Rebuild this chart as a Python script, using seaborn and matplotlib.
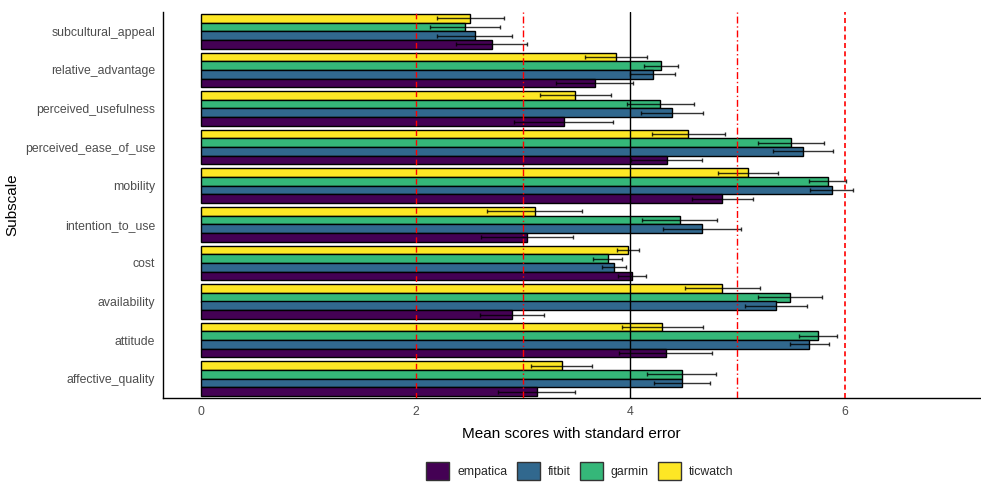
import numpy as np
import pandas as pd
import matplotlib
matplotlib.use("Agg")
import matplotlib.pyplot as plt
from matplotlib.patches import Patch
import seaborn as sns

subscales = ["subcultural_appeal", "relative_advantage", "perceived_usefulness",
             "perceived_ease_of_use", "mobility", "intention_to_use", "cost",
             "availability", "attitude", "affective_quality"]
devices = ["empatica", "fitbit", "garmin", "ticwatch"]

mean_empatica = [2.71, 3.67, 3.38, 4.34, 4.86, 3.04, 4.02, 2.90, 4.33, 3.13]
se_empatica = [0.33, 0.36, 0.46, 0.33, 0.28, 0.43, 0.13, 0.30, 0.43, 0.36]
mean_fitbit = [2.55, 4.21, 4.39, 5.61, 5.88, 4.67, 3.85, 5.36, 5.67, 4.48]
se_fitbit = [0.35, 0.21, 0.29, 0.28, 0.20, 0.36, 0.11, 0.29, 0.18, 0.26]
mean_garmin = [2.46, 4.29, 4.28, 5.50, 5.84, 4.46, 3.79, 5.49, 5.75, 4.48]
se_garmin = [0.33, 0.16, 0.31, 0.31, 0.17, 0.35, 0.135, 0.30, 0.18, 0.32]
mean_ticwatch = [2.51, 3.87, 3.49, 4.54, 5.10, 3.11, 3.98, 4.86, 4.30, 3.36]
se_ticwatch = [0.31, 0.29, 0.33, 0.34, 0.28, 0.44, 0.105, 0.35, 0.38, 0.28]

colors = {"empatica": "#440154", "fitbit": "#31688E", "garmin": "#35B779", "ticwatch": "#FDE725"}

means = {"empatica": mean_empatica, "fitbit": mean_fitbit, "garmin": mean_garmin, "ticwatch": mean_ticwatch}
ses = {"empatica": se_empatica, "fitbit": se_fitbit, "garmin": se_garmin, "ticwatch": se_ticwatch}

rows = []
for d in devices:
    for s, m, e in zip(subscales, means[d], ses[d]):
        rows.append({"subscale": s, "device": d, "mean": m, "se": e})
df = pd.DataFrame(rows)

sns.set_style("white")
plt.rcParams["font.family"] = ["Liberation Sans", "DejaVu Sans"]

fig = plt.figure(figsize=(9.81, 4.84), dpi=100)
ax = fig.add_axes([163 / 981, 1 - 398 / 484, (980 - 163) / 981, (398 - 12) / 484])

hue_order = ["ticwatch", "garmin", "fitbit", "empatica"]
sns.barplot(data=df, y="subscale", x="mean", hue="device", order=subscales,
            hue_order=hue_order, palette=colors, orient="h", errorbar=None,
            width=0.9, edgecolor="black", linewidth=1, saturation=1, ax=ax,
            legend=False)

for cont, dev in zip(ax.containers, hue_order):
    sub = df[df.device == dev].set_index("subscale").loc[subscales]
    ys = [p.get_y() + p.get_height() / 2 for p in cont]
    xs = [p.get_width() for p in cont]
    ax.errorbar(xs, ys, xerr=sub["se"].values, fmt="none", ecolor="black",
                elinewidth=1, capsize=1.5, capthick=1, alpha=0.8, zorder=5)

ax.axvline(4, color="black", lw=1, zorder=6)
ax.axvline(2, color="red", lw=1, ls=(0, (4, 3)), zorder=6)
ax.axvline(6, color="red", lw=1.2, ls=(0, (3, 2)), zorder=6)
ax.axvline(3, color="red", lw=1, ls=(0, (5, 2, 1, 2)), zorder=6)
ax.axvline(5, color="red", lw=1, ls=(0, (5, 2, 1, 2)), zorder=6)

ax.set_xlim(-0.354, 7.26)
ax.set_ylim(9.5, -0.5)
ax.set_xticks([0, 2, 4, 6])
ax.tick_params(axis="both", colors="#333333", labelcolor="#4D4D4D", labelsize=8.8,
               length=3, width=0.8, direction="out")
ax.tick_params(axis="x", pad=3)
ax.tick_params(axis="y", pad=2.5)
for side in ["top", "right"]:
    ax.spines[side].set_visible(False)
for side in ["left", "bottom"]:
    ax.spines[side].set_color("black")
    ax.spines[side].set_linewidth(1)
ax.set_xlabel("Mean scores with standard error", fontsize=11, color="black", labelpad=6)
ax.set_ylabel("Subscale", fontsize=11, color="black", labelpad=4)

handles = [Patch(facecolor=colors[d], edgecolor="#333333", linewidth=1, label=d) for d in devices]
fig.legend(handles=handles, loc="center", bbox_to_anchor=(580 / 981, 1 - 471 / 484),
           ncol=4, frameon=False, fontsize=8.8, handlelength=1.9, handleheight=1.9,
           handletextpad=0.65, columnspacing=0.75, borderpad=0.2)

fig.savefig("out.png", dpi=100)
